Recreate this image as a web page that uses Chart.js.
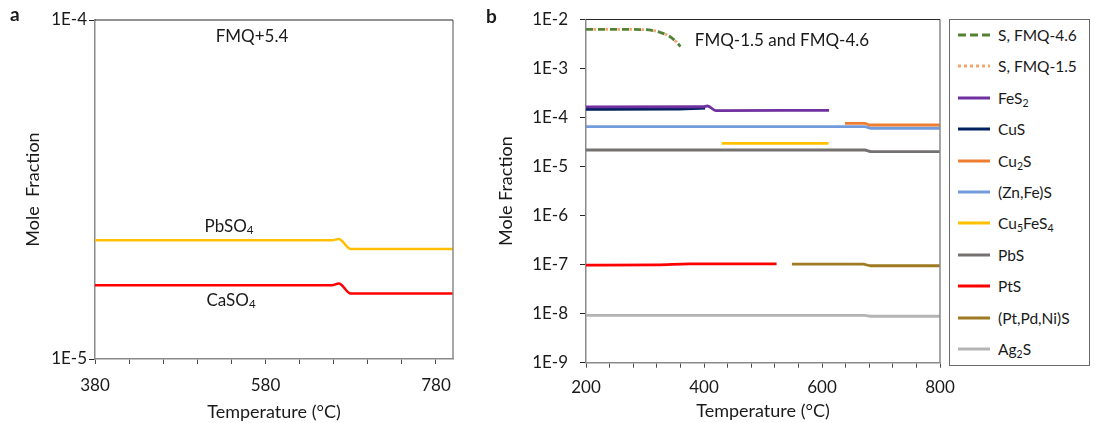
<!DOCTYPE html>
<html>
<head>
<meta charset="utf-8">
<script src="https://cdn.jsdelivr.net/npm/chart.js@4.4.0/dist/chart.umd.min.js"></script>
<style>
  html, body { margin: 0; padding: 0; background: #fff; }
  body { width: 1095px; height: 423px; position: relative; overflow: hidden; font-family: Lato, "Open Sans", sans-serif; color: #1a1a1a; }
  .abs { position: absolute; white-space: nowrap; }
  canvas { position: absolute; }
  sub { font-size: 0.68em; vertical-align: -0.25em; line-height: 0; }
  .ann { font-size: 17px; transform: translate(-50%, -50%); }
  .panel { font-weight: bold; font-size: 19px; transform: translateY(-50%); }
  #legend { position: absolute; left: 949px; top: 19px; width: 141px; height: 347px; border: 1px solid #6a6a6a; box-sizing: border-box; background: #fff; }
  .li { position: absolute; left: 958px; height: 20px; transform: translateY(-50%); display: flex; align-items: center; font-size: 15.5px; }
  .li svg { width: 32px; height: 6px; margin-right: 8px; }
</style>
</head>
<body>
<canvas id="ca" width="470" height="423" style="left:0;top:0"></canvas>
<canvas id="cb" width="500" height="423" style="left:470px;top:0"></canvas>

<div class="abs panel" style="left:10px;top:13px">a</div>
<div class="abs panel" style="left:486px;top:15px">b</div>
<div class="abs ann" style="left:252px;top:35px">FMQ+5.4</div>
<div class="abs ann" style="left:229px;top:225px">PbSO<sub>4</sub></div>
<div class="abs ann" style="left:231px;top:299px">CaSO<sub>4</sub></div>
<div class="abs ann" style="left:782px;top:39px">FMQ-1.5 and FMQ-4.6</div>
<div id="legend"></div>

<script>
// ---------- Panel a data ----------
const xTicksA = [380, 420, 460, 500, 540, 580, 620, 660, 700, 740, 780];
const xLabelsA = [380, 580, 780];
const yTicksA = [1e-5, 1e-4];
const tempPbSO4 = [380, 658, 666, 680, 685, 800];
const valPbSO4  = [2.24e-5, 2.24e-5, 2.26e-5, 2.11e-5, 2.11e-5, 2.11e-5];
const tempCaSO4 = [380, 658, 666, 680, 685, 800];
const valCaSO4  = [1.65e-5, 1.65e-5, 1.67e-5, 1.56e-5, 1.56e-5, 1.56e-5];

// ---------- Panel b data ----------
const xTicksB = [200, 240, 280, 320, 360, 400, 440, 480, 520, 560, 600, 640, 680, 720, 760, 800];
const xLabelsB = [200, 400, 600, 800];
const yTicksB = [1e-9, 1e-8, 1e-7, 1e-6, 1e-5, 1e-4, 1e-3, 1e-2];

const seriesNames = ['S, FMQ-4.6', 'S, FMQ-1.5', 'FeS<sub>2</sub>', 'CuS', 'Cu<sub>2</sub>S', '(Zn,Fe)S',
                     'Cu<sub>5</sub>FeS<sub>4</sub>', 'PbS', 'PtS', '(Pt,Pd,Ni)S', 'Ag<sub>2</sub>S'];
const tempS46 = [200, 250, 300, 315, 325, 342, 354, 360];
const valS46  = [6.3e-3, 6.3e-3, 6.2e-3, 5.9e-3, 5.5e-3, 4.5e-3, 3.4e-3, 2.8e-3];
const tempS15 = [200, 250, 300, 315, 325, 342, 354, 358];
const valS15  = [6.3e-3, 6.3e-3, 6.2e-3, 5.9e-3, 5.5e-3, 4.5e-3, 3.4e-3, 3.0e-3];
const tempFeS2 = [200, 398, 406, 420, 612];
const valFeS2  = [1.65e-4, 1.66e-4, 1.72e-4, 1.39e-4, 1.40e-4];
const tempCuS = [200, 340, 402];
const valCuS  = [1.47e-4, 1.48e-4, 1.56e-4];
const tempCu2S = [639, 672, 682, 800];
const valCu2S  = [7.6e-5, 7.6e-5, 7.05e-5, 7.05e-5];
const tempZnFeS = [200, 672, 683, 800];
const valZnFeS  = [6.55e-5, 6.55e-5, 6.05e-5, 6.05e-5];
const tempCu5FeS4 = [430, 611];
const valCu5FeS4  = [2.98e-5, 2.98e-5];
const tempPbS = [200, 672, 684, 800];
const valPbS  = [2.18e-5, 2.18e-5, 2.01e-5, 2.01e-5];
const tempPtS = [200, 320, 375, 523];
const valPtS  = [9.8e-8, 9.9e-8, 1.04e-7, 1.04e-7];
const tempPtPdNiS = [549, 670, 682, 800];
const valPtPdNiS  = [1.02e-7, 1.02e-7, 9.5e-8, 9.5e-8];
const tempAg2S = [200, 672, 684, 800];
const valAg2S  = [9.27e-9, 9.27e-9, 8.85e-9, 8.85e-9];

// ---------- helpers ----------
const zip = (xs, ys) => xs.map((x, i) => ({ x, y: ys[i] }));
const FONT = 'Lato, "Open Sans", sans-serif';
const TXT = '#1a1a1a';
const expLabel = v => Number(v).toExponential(0).toUpperCase().replace('+', '');

const framePlugin = {
  id: 'frame',
  afterDraw(chart) {
    const { ctx, chartArea: { left, right, top, bottom } } = chart;
    ctx.save();
    ctx.strokeStyle = '#8a8a8a'; ctx.lineWidth = 1.5;
    ctx.beginPath(); ctx.moveTo(right, top); ctx.lineTo(right, bottom); ctx.stroke();
    ctx.strokeStyle = '#262626'; ctx.lineWidth = 1.2;
    ctx.beginPath(); ctx.moveTo(left, top); ctx.lineTo(right, top); ctx.stroke();
    ctx.restore();
  }
};

function line(label, xs, ys, color, extra) {
  return Object.assign({
    label, data: zip(xs, ys), borderColor: color, backgroundColor: color,
    borderWidth: 2.8, pointRadius: 0, fill: false, cubicInterpolationMode: 'monotone'
  }, extra || {});
}

function makeOptions(cfg) {
  return {
    responsive: false, animation: false, devicePixelRatio: 1,
    layout: { padding: { left: 0, right: cfg.padRight, top: cfg.padTop, bottom: 0 } },
    plugins: { legend: { display: false }, tooltip: { enabled: false } },
    scales: {
      x: {
        type: 'linear', min: cfg.xMin, max: cfg.xMax,
        afterBuildTicks: s => { s.ticks = cfg.xTicks.map(v => ({ value: v })); },
        afterFit: s => { s.height = cfg.xHeight; s.paddingLeft = 0; s.paddingRight = 0; },
        ticks: {
          autoSkip: false, maxRotation: 0, padding: cfg.xTickPad, color: TXT,
          font: { family: FONT, size: 17 },
          callback: v => cfg.xLabels.includes(v) ? String(v) : ''
        },
        grid: { drawOnChartArea: false, tickLength: 5, color: '#4d4d4d', tickWidth: 1 },
        border: { display: true, color: '#8a8a8a', width: 1.5 },
        title: { display: true, text: 'Temperature (°C)', color: TXT,
                 font: { family: FONT, size: 18, lineHeight: 1.2 }, padding: { top: 0, bottom: cfg.xTitlePad } }
      },
      y: {
        type: 'logarithmic', min: cfg.yMin, max: cfg.yMax,
        afterBuildTicks: s => { s.ticks = cfg.yTicks.map(v => ({ value: v })); },
        afterFit: s => { s.width = cfg.yWidth; s.paddingTop = 0; s.paddingBottom = 0; },
        ticks: { autoSkip: false, padding: cfg.yTickPad, color: TXT, font: { family: FONT, size: 17 }, callback: expLabel },
        grid: { drawOnChartArea: false, tickLength: 6, color: '#262626', tickWidth: 1 },
        border: { display: true, color: '#8a8a8a', width: 1.5 },
        title: { display: true, text: cfg.yTitle, color: TXT,
                 font: { family: FONT, size: 18, lineHeight: 1.2 }, padding: { top: cfg.yTitlePad, bottom: 0 } }
      }
    }
  };
}

// ---------- Panel a ----------
new Chart(document.getElementById('ca'), {
  type: 'line',
  data: { datasets: [
    line('PbSO4', tempPbSO4, valPbSO4, '#FFC000', { borderWidth: 2.5 }),
    line('CaSO4', tempCaSO4, valCaSO4, '#FF0000', { borderWidth: 2.5 })
  ] },
  options: makeOptions({
    padRight: 17, padTop: 20, xMin: 380, xMax: 800, xTicks: xTicksA, xLabels: xLabelsA,
    xHeight: 64, xTickPad: 11, xTitlePad: 0,
    yMin: 1e-5, yMax: 1e-4, yTicks: yTicksA, yWidth: 95, yTickPad: 2,
    yTitle: 'Mole  Fraction', yTitlePad: 22
  }),
  plugins: [framePlugin]
});

// ---------- Panel b ----------
const colorsB = ['#548235', '#F4A46C', '#7030A0', '#002060', '#ED7D31', '#729BDC',
                 '#FFC000', '#767171', '#FF0000', '#9E7A23', '#B4B4B4'];
const dashesB = [[7, 5], [2.5, 9.5], [], [], [], [], [], [], [], [], []];
const xsB = [tempS46, tempS15, tempFeS2, tempCuS, tempCu2S, tempZnFeS, tempCu5FeS4, tempPbS, tempPtS, tempPtPdNiS, tempAg2S];
const ysB = [valS46, valS15, valFeS2, valCuS, valCu2S, valZnFeS, valCu5FeS4, valPbS, valPtS, valPtPdNiS, valAg2S];

new Chart(document.getElementById('cb'), {
  type: 'line',
  data: { datasets: seriesNames.map((n, i) =>
    line(n, xsB[i], ysB[i], colorsB[i], i === 1
      ? { borderDash: dashesB[i], borderDashOffset: 4.5, borderWidth: 2.8, order: -1 }
      : { borderDash: dashesB[i] })) },
  options: makeOptions({
    padRight: 30, padTop: 19.5, xMin: 200, xMax: 800, xTicks: xTicksB, xLabels: xLabelsB,
    xHeight: 60.3, xTickPad: 10, xTitlePad: 1,
    yMin: 1e-9, yMax: 1e-2, yTicks: yTicksB, yWidth: 116, yTickPad: 12,
    yTitle: 'Mole Fraction', yTitlePad: 25
  }),
  plugins: [framePlugin]
});

// ---------- Legend (HTML) ----------
seriesNames.forEach((n, i) => {
  const d = document.createElement('div');
  d.className = 'li';
  d.style.top = (35 + 31.4 * i) + 'px';
  const dash = dashesB[i].length ? `stroke-dasharray="${i === 0 ? '8 4' : '3 3'}"` : '';
  d.innerHTML = `<svg viewBox="0 0 32 6"><line x1="0" y1="3" x2="32" y2="3" stroke="${colorsB[i]}" stroke-width="3" ${dash}/></svg><span>${n}</span>`;
  document.body.appendChild(d);
});
</script>
</body>
</html>
